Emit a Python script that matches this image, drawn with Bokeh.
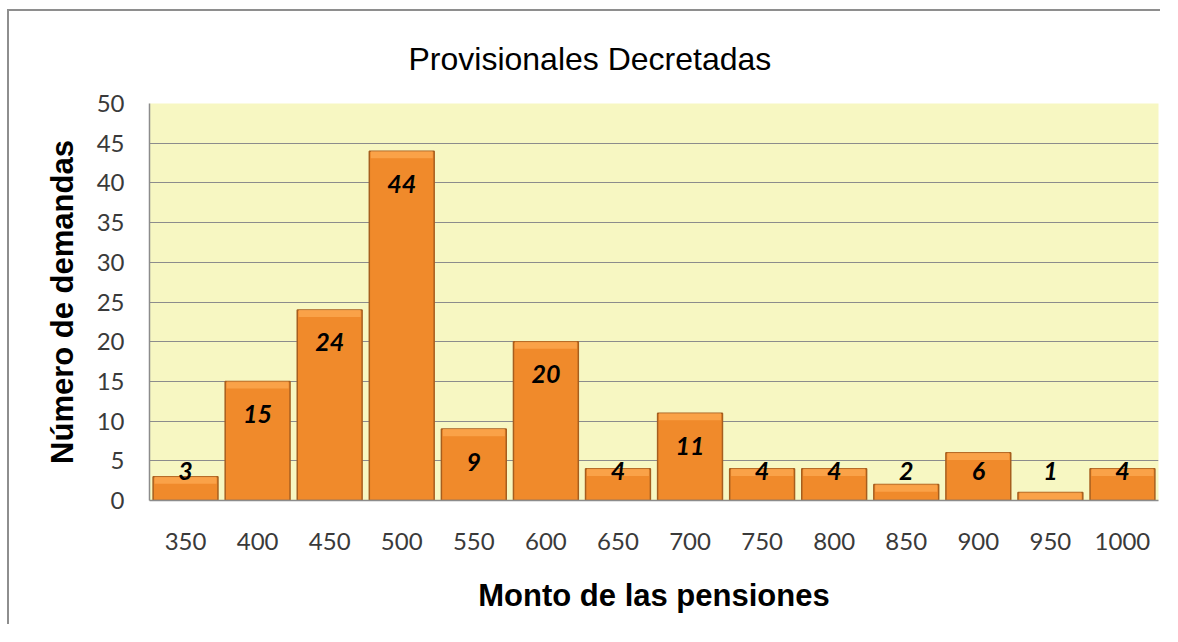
from bokeh.plotting import figure
from bokeh.models import ColumnDataSource, Range1d, FixedTicker
from bokeh.core.properties import value
from bokeh.embed import file_html
from bokeh.resources import INLINE

categories = ["350", "400", "450", "500", "550", "600", "650", "700",
              "750", "800", "850", "900", "950", "1000"]
demandas = [3, 15, 24, 44, 9, 20, 4, 11, 4, 4, 2, 6, 1, 4]
y_ticks = [0, 5, 10, 15, 20, 25, 30, 35, 40, 45, 50]

title_text = "Provisionales Decretadas"
x_title = "Monto de las pensiones"
y_title = "Número de demandas"

label_y = [max(v - 4.1, 3.75) for v in demandas]
band_bottom = [max(v - 0.9, 0) for v in demandas]

src = ColumnDataSource(dict(cat=categories, val=demandas, ly=label_y,
                            bb=band_bottom, txt=[str(v) for v in demandas]))

p = figure(width=1153, height=615, x_range=categories, y_range=Range1d(0, 50),
           output_backend="svg", toolbar_location=None, title=title_text,
           min_border_left=140, min_border_right=4, min_border_top=89,
           min_border_bottom=126,
           styles={"margin-left": "9px", "margin-top": "11px",
                   "box-shadow": "-2px -2px 0px 0px #8e8e8e"})

p.background_fill_color = "#F7F7C2"
p.border_fill_color = "white"
p.outline_line_color = None

p.title.text_font = "Liberation Sans"
p.title.text_font_size = "32px"
p.title.text_font_style = "normal"
p.title.text_color = "black"
p.title.text_line_height = 1.0
p.title.align = "left"
p.title.offset = 259
p.title.standoff = 54

# bars
p.vbar(x="cat", top="val", width=0.9, source=src, fill_color="#F08A2B",
       line_color="#A65E1E", line_width=1.5)
# top bevel highlight
p.vbar(x="cat", top="val", bottom="bb", width=0.86, source=src,
       fill_color="#FBA64D", line_color=None, fill_alpha=0.85)

p.text(x="cat", y="ly", text="txt", source=src, text_font=value("Lato"),
       text_font_style="bold italic", text_font_size="25px", text_color="black",
       text_align="center", text_baseline="middle")

p.xgrid.grid_line_color = None
p.ygrid.grid_line_color = "#8c8c8c"
p.ygrid.grid_line_width = 1

p.yaxis.ticker = FixedTicker(ticks=y_ticks)
for ax in (p.xaxis[0], p.yaxis[0]):
    ax.axis_line_color = "#8c8c8c"
    ax.axis_line_width = 1.5
    ax.major_tick_line_color = None
    ax.minor_tick_line_color = None
    ax.major_tick_in = 0
    ax.major_tick_out = 0
    ax.major_label_text_font = "Lato"
    ax.major_label_text_font_size = "24px"
    ax.major_label_text_color = "#3a3a3a"
    ax.axis_label_text_font = "Liberation Sans"
    ax.axis_label_text_font_size = "31px"
    ax.axis_label_text_font_style = "bold"
    ax.axis_label_text_color = "black"

p.xaxis.axis_label = x_title
p.yaxis.axis_label = y_title
p.xaxis.major_label_standoff = 32
p.xaxis.axis_label_standoff = 25
p.yaxis.major_label_standoff = 25
p.yaxis.axis_label_standoff = 14

open("out.html", "w").write(file_html(p, INLINE))
